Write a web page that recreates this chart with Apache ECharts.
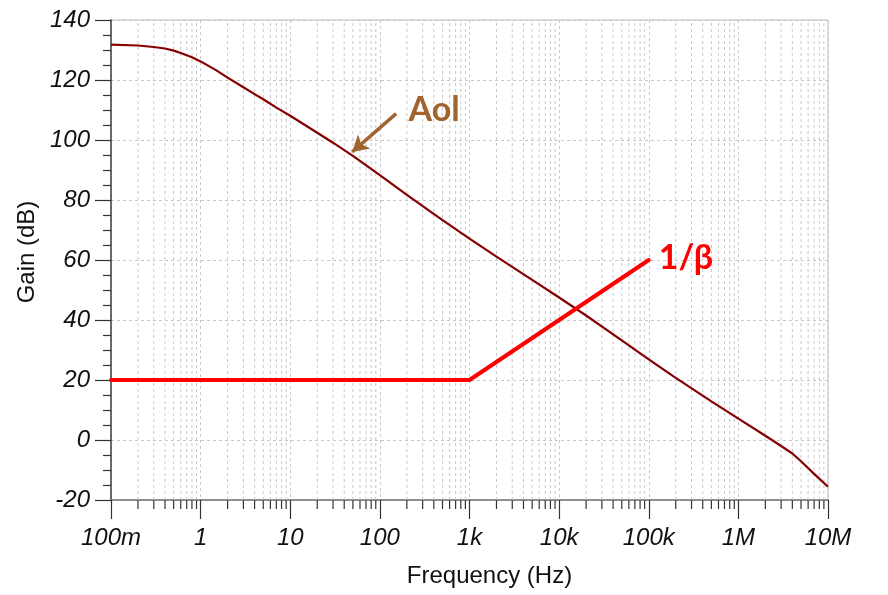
<!DOCTYPE html>
<html>
<head>
<meta charset="utf-8">
<script src="https://cdn.jsdelivr.net/npm/echarts@6/dist/echarts.min.js"></script>
<style>
  html, body { margin: 0; padding: 0; background: #fff; }
  #chart { width: 888px; height: 595px; }
</style>
</head>
<body>
<div id="chart"></div>
<script>
// Open-loop gain (Aol) of the op amp versus frequency, in dB
const aolFreq = [0.1, 0.2, 0.3, 0.4, 0.5, 0.6, 0.8, 1, 1.5, 2, 3, 4, 5, 7, 10, 20, 30, 50, 100, 200, 500,
  1000, 2000, 5000, 10000, 20000, 50000, 100000, 200000, 500000, 1e6, 2e6, 3e6, 4e6, 5e6, 7e6, 1e7];
const aolGain = [131.8, 131.5, 131.0, 130.5, 129.8, 129.0, 127.6, 126.2, 123.2, 120.8, 117.6, 115.3,
  113.6, 110.8, 108.1, 102.4, 99.1, 94.7, 88.3, 81.7, 73.3, 67.1, 61.1, 53.4, 47.5, 41.5, 33.2,
  26.9, 20.7, 12.9, 7.1, 1.4, -2.0, -4.5, -7.1, -11.3, -15.6];

// Noise gain 1/beta: flat, then rising 20 dB/decade above the zero
const betaFreq = [0.1, 1000, 100000];
const betaGain = [20, 20, 60];

// Axis ranges and tick labels
const freqDecades = [0.1, 1, 10, 100, 1000, 1e4, 1e5, 1e6, 1e7];
const freqLabels = ['100m', '1', '10', '100', '1k', '10k', '100k', '1M', '10M'];
const gainMin = -20, gainMax = 140, gainStep = 20;

// Intermediate log positions (2..9 within every decade) for the minor grid
const minorFreqs = [];
for (let d = 0; d < freqDecades.length - 1; d++) {
  for (let m = 2; m <= 9; m++) minorFreqs.push([m * freqDecades[d]]);
}

const FONT = '"Liberation Sans", Arial, sans-serif';
const ANNOT_FONT = 'Lato, "Open Sans", sans-serif';
const gridColor = '#c8c8c8';

const chart = echarts.init(document.getElementById('chart'), null, { renderer: 'canvas' });

chart.setOption({
  animation: false,
  backgroundColor: '#ffffff',
  grid: {
    left: 111, right: 60, top: 20, bottom: 95,
    outerBoundsMode: 'none',
    containLabel: false,
    show: true, borderColor: '#bbbbbb', borderWidth: 1
  },
  xAxis: {
    type: 'log',
    logBase: 10,
    min: freqDecades[0],
    max: freqDecades[freqDecades.length - 1],
    splitNumber: 8,
    name: 'Frequency (Hz)',
    nameLocation: 'middle',
    nameGap: 64,
    nameTextStyle: { fontFamily: FONT, fontSize: 24, color: '#111', padding: [0, 0, 0, 40] },
    axisLine: { show: true, onZero: false, lineStyle: { color: '#777', width: 1.5 } },
    axisTick: { show: true, length: 19, lineStyle: { color: '#333', width: 1.2 } },
    axisLabel: {
      show: true, margin: 26, fontFamily: FONT, fontSize: 24, fontStyle: 'italic', color: '#111',
      showMinLabel: true, showMaxLabel: true,
      formatter: function (v) {
        const i = Math.round(Math.log10(v)) + 1;
        return freqLabels[i] !== undefined ? freqLabels[i] : '';
      }
    },
    splitLine: { show: true, lineStyle: { color: gridColor, type: [3, 3], width: 1 } }
  },
  yAxis: {
    type: 'value',
    min: gainMin,
    max: gainMax,
    interval: gainStep,
    name: 'Gain (dB)',
    nameLocation: 'middle',
    nameGap: 68,
    nameTextStyle: { fontFamily: FONT, fontSize: 24, color: '#111', padding: [0, 0, 0, 16] },
    axisLine: { show: true, onZero: false, lineStyle: { color: '#444', width: 1.5 } },
    axisTick: { show: true, length: 16, lineStyle: { color: '#333', width: 1.2 } },
    minorTick: { show: true, splitNumber: 4, length: 8, lineStyle: { color: '#333', width: 1.2 } },
    axisLabel: { margin: 21, fontFamily: FONT, fontSize: 24, fontStyle: 'italic', color: '#111' },
    splitLine: { show: true, lineStyle: { color: gridColor, type: [3, 3], width: 1 } }
  },
  series: [
    {
      // minor frequency grid lines and the short ticks under the axis
      type: 'custom',
      data: minorFreqs,
      clip: false,
      silent: true,
      z: 1,
      encode: { x: 0 },
      renderItem: function (params, api) {
        const f = api.value(0);
        const pb = api.coord([f, gainMin]);
        const pt = api.coord([f, gainMax]);
        return {
          type: 'group',
          children: [
            {
              type: 'line',
              shape: { x1: pb[0], y1: pb[1], x2: pt[0], y2: pt[1] },
              style: { stroke: gridColor, lineWidth: 1, lineDash: [3, 3] }
            },
            {
              type: 'line',
              shape: { x1: pb[0], y1: pb[1], x2: pb[0], y2: pb[1] + 9 },
              style: { stroke: '#333', lineWidth: 1.2 }
            }
          ]
        };
      }
    },
    {
      name: 'Aol',
      type: 'line',
      data: aolFreq.map((f, i) => [f, aolGain[i]]),
      showSymbol: false,
      smooth: false,
      z: 3,
      lineStyle: { color: '#850000', width: 2.2, join: 'round' },
      markLine: {
        silent: true,
        symbol: ['none', 'arrow'],
        symbolSize: [14, 16],
        label: { show: false },
        lineStyle: { color: '#a0642e', width: 3.5, type: 'solid' },
        data: [[{ coord: [152, 108.8] }, { coord: [49, 96.0] }]]
      },
      markPoint: {
        silent: true,
        symbol: 'circle',
        symbolSize: 0,
        label: {
          show: true, position: 'inside', formatter: 'Aol',
          fontFamily: ANNOT_FONT, fontWeight: 'bold', fontSize: 34, color: '#a0642e'
        },
        data: [{ coord: [403, 110] }]
      }
    },
    {
      name: '1/β',
      type: 'line',
      data: betaFreq.map((f, i) => [f, betaGain[i]]),
      showSymbol: false,
      z: 4,
      lineStyle: { color: '#ff0000', width: 4, cap: 'round' },
      endLabel: {
        show: true, formatter: '1/β', distance: 10, offset: [0, -2],
        fontFamily: ANNOT_FONT, fontWeight: 'bold', fontSize: 34, color: '#ff0000'
      }
    }
  ]
});
</script>
</body>
</html>
